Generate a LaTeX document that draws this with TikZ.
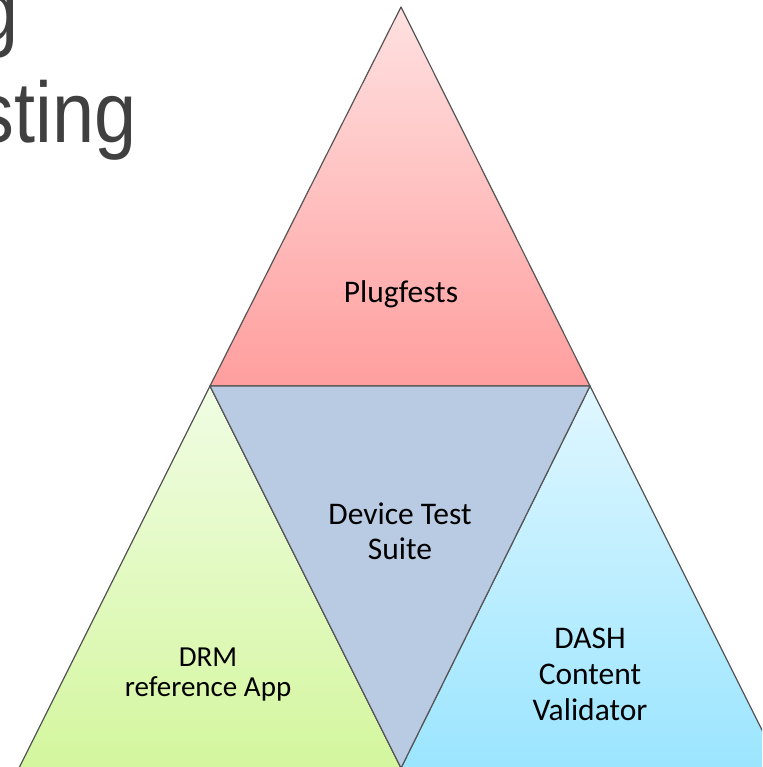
\documentclass[tikz,border=0pt]{standalone}
\usepackage{fontspec}
\newfontfamily\carlito{Carlito}
\newfontfamily\arialfont{Liberation Sans}
\usetikzlibrary{calc}
\definecolor{edgegray}{RGB}{85,85,85}
\definecolor{titlegray}{RGB}{64,64,64}
\definecolor{pinktop}{RGB}{255,225,225}
\definecolor{pinkbot}{RGB}{255,158,158}
\definecolor{greentop}{RGB}{240,253,228}
\definecolor{greenbot}{RGB}{212,246,158}
\definecolor{bluetop}{RGB}{224,247,255}
\definecolor{bluebot}{RGB}{155,229,255}
\definecolor{suiteblue}{RGB}{185,203,227}
\tikzstyle{tri} = [draw=edgegray, line width=1.2pt, line join=round]
\tikzstyle{tritext} = [align=center, text=black, inner sep=0pt]
\tikzstyle{title} = [text=titlegray, inner sep=0pt, anchor=base east, xscale=0.88, transform shape, font=\arialfont\fontsize{86}{100}\selectfont]

\begin{document}
\begin{tikzpicture}[x=1pt,y=-1pt]
	\useasboundingbox (0,0) rectangle (762,767);
	\clip (0,0) rectangle (762,767);
	% corners of the triangles
	\coordinate (T) at (401,7);
	\coordinate (L) at (210,386);
	\coordinate (R) at (590,386);
	\coordinate (B) at (401,768);
	\coordinate (BL) at (19,768);
	\coordinate (BR) at (781,768);
	% title, cut off at the left
	\node (TL1) [title] at (19,41) {g};
	\node (TL2) [title] at (137,143) {sting};
	% the four triangles
	\path [tri, top color=pinktop, bottom color=pinkbot] (T) -- (R) -- (L) -- cycle;
	\path [tri, top color=greentop, bottom color=greenbot] (L) -- (B) -- (BL) -- cycle;
	\path [tri, top color=bluetop, bottom color=bluebot] (R) -- (BR) -- (B) -- cycle;
	\path [tri, fill=suiteblue] (L) -- (R) -- (B) -- cycle;
	% texts
	\node (PF) [tritext, anchor=base, font=\carlito\fontsize{31.5}{35}\selectfont] at (401,302) {Plugfests};
	\node (DTS) [tritext, font=\carlito\fontsize{31.5}{35}\selectfont] at (400,531) {Device Test\\Suite};
	\node (DRM) [tritext, font=\carlito\fontsize{29}{30}\selectfont] at (208,675) {DRM\\reference App};
	\node (DCV) [tritext, font=\carlito\fontsize{31.5}{36}\selectfont] at (590,674) {DASH\\Content\\Validator};
\end{tikzpicture}
\end{document}
